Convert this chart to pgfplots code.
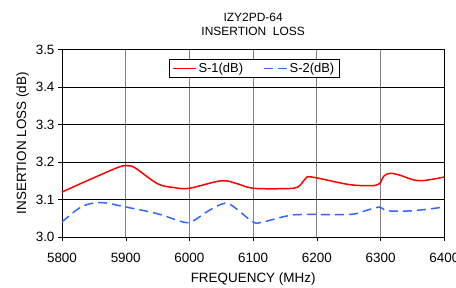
\documentclass[border=0pt]{standalone}
\usepackage{pgfplots}
\pgfplotsset{compat=1.18}
\usepackage{fontspec}
\setmainfont{Liberation Sans}
\definecolor{sred}{RGB}{255,0,0}
\definecolor{sblue}{RGB}{51,102,255}
\begin{document}
\begin{tikzpicture}[x=1bp,y=1bp]
\useasboundingbox (-62bp,-51bp) rectangle (394bp,237bp);
\begin{axis}[
  at={(0,0)}, anchor=south west,
  scale only axis, width=382.3bp, height=187.5bp,
  xmin=5800, xmax=6400, ymin=3.0, ymax=3.5,
  xtick={5800,5900,...,6400}, ytick={3.0,3.1,...,3.5},
  yticklabel style={/pgf/number format/.cd,fixed,fixed zerofill,precision=1},
  xticklabel style={/pgf/number format/.cd,fixed,set thousands separator={}, /tikz/yshift=-9bp},
  /pgf/number format/assume math mode=true,
  tick label style={font=\fontsize{13.5}{15}\selectfont},
  label style={font=\fontsize{13.5}{15}\selectfont},
  xlabel={FREQUENCY (MHz)}, ylabel={INSERTION LOSS (dB)},
  title={IZY2PD-64\\INSERTION\ \ LOSS}, title style={font=\fontsize{12}{14.5}\selectfont, align=center, yshift=4bp},
  grid=major,
  x grid style={gray, line width=0.9pt},
  y grid style={black, line width=0.5pt},
  axis line style={black, line width=0.8pt},
  tick align=outside, major tick length=4bp,
  tick style={black},
  xtick pos=bottom, ytick pos=left,
  xlabel style={yshift=-3bp},
  ylabel style={yshift=0bp},
  legend style={at={(0.5026,0.9)}, anchor=center, legend columns=2, draw=black, line width=0.6pt, font=\fontsize{13}{14}\selectfont, inner xsep=3pt, inner ysep=1.5pt, /tikz/every even column/.append style={column sep=18bp}},
  legend image code/.code={\draw[#1] (0bp,0bp) -- (23bp,0bp);},
  legend cell align=left,
]
\addplot[sred, line width=1.5pt, smooth, tension=0.55] coordinates {
(5800,3.12) (5850,3.158) (5890,3.187) (5903,3.19) (5915,3.184) (5950,3.142) (5975,3.132) (6000,3.13) (6050,3.15) (6075,3.142) (6100,3.13) (6150,3.129) (6170,3.133) (6182,3.155) (6192,3.16) (6250,3.14) (6285,3.137) (6298,3.142) (6305,3.162) (6315,3.17) (6330,3.165) (6360,3.15) (6400,3.16)
};
\addlegendentry{S-1(dB)}
\addplot[sblue, line width=1.5pt, dash pattern=on 9bp off 5bp, smooth, tension=0.55] coordinates {
(5800,3.04) (5830,3.08) (5860,3.092) (5900,3.08) (5950,3.062) (5990,3.04) (6005,3.042) (6030,3.07) (6055,3.09) (6070,3.08) (6100,3.04) (6115,3.04) (6150,3.055) (6175,3.06) (6250,3.06) (6270,3.067) (6298,3.08) (6310,3.07) (6350,3.07) (6400,3.08)
};
\addlegendentry{S-2(dB)}
\end{axis}
\end{tikzpicture}
\end{document}
